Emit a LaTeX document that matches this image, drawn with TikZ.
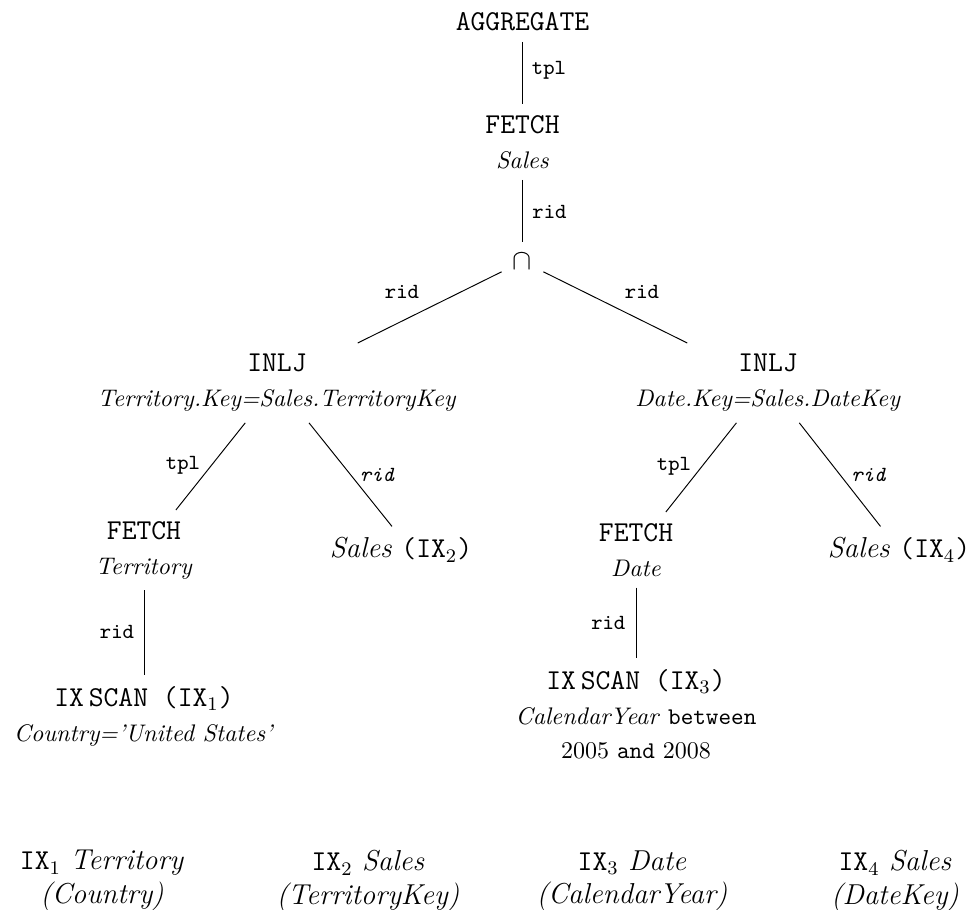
\documentclass[tikz,border=0pt]{standalone}
\usetikzlibrary{calc}
\tikzset{
  opnode/.style={font=\large, align=center, inner sep=4.5pt},
  elabel/.style={font=\small\ttfamily, inner sep=0pt},
  elabelit/.style={font=\small\ttfamily\itshape, inner sep=0pt},
  legendnode/.style={font=\large, align=center, inner sep=0pt},
  conn/.style={draw=black, line width=0.4pt}
}
\begin{document}
\begin{tikzpicture}[x=0.41667pt,y=-0.41667pt]
\useasboundingbox (0,0) rectangle (973,910);
% operator nodes
\node[opnode, anchor=north] (agg) at (522.5,1) {\texttt{AGGREGATE}};
\node[opnode, anchor=north] (fetch1) at (522.5,104) {\texttt{FETCH}\\[0.5pt]{\normalsize\textit{Sales}}};
\node[opnode] (cap) at (522.5,261.5) {$\cap$};
\node[opnode, anchor=north] (inlj1) at (277,343) {\texttt{INLJ}\\[0.5pt]{\normalsize\textit{Territory.Key=Sales.TerritoryKey}}};
\node[opnode, anchor=north] (inlj2) at (768,343) {\texttt{INLJ}\\[0.5pt]{\normalsize\textit{Date.Key=Sales.DateKey}}};
\node[opnode, anchor=north] (fetchT) at (144,510) {\texttt{FETCH}\\[0.5pt]{\normalsize\textit{Territory}}};
\node[opnode, anchor=base] (salesIX2) at (401,558) {\textit{Sales} \texttt{(IX}$_2$\texttt{)}};
\node[opnode, anchor=north] (fetchD) at (636,512) {\texttt{FETCH}\\[0.5pt]{\normalsize\textit{Date}}};
\node[opnode, anchor=base] (salesIX4) at (899,558) {\textit{Sales} \texttt{(IX}$_4$\texttt{)}};
\node[opnode, anchor=north] (ixscan1) at (144,675) {\texttt{IX}\,\texttt{SCAN (IX}$_1$\texttt{)}\\[0.5pt]{\normalsize\textit{Country='United States'}}};
\node[opnode, anchor=north] (ixscan3) at (636,658) {\texttt{IX}\,\texttt{SCAN (IX}$_3$\texttt{)}\\[0.5pt]{\normalsize\textit{CalendarYear} \texttt{between}}\\[0.5pt]{\normalsize 2005 \texttt{and} 2008}};
% connectors
\draw[conn] (agg) -- (fetch1);
\draw[conn] (fetch1) -- (cap);
\draw[conn] (cap) -- (inlj1);
\draw[conn] (cap) -- (inlj2);
\draw[conn] (inlj1) -- (fetchT);
\draw[conn] (inlj1) -- ($(salesIX2.north)+(-9,0)$);
\draw[conn] (inlj2) -- (fetchD);
\draw[conn] (inlj2) -- (salesIX4);
\draw[conn] (fetchT) -- (ixscan1);
\draw[conn] (fetchD) -- (ixscan3);
% edge labels
\node[elabel] (l1) at (549,70) {tpl};
\node[elabel] (l2) at (549.5,211.7) {rid};
\node[elabel] (l3) at (402,292) {rid};
\node[elabel] (l4) at (642,292) {rid};
\node[elabel] (l5) at (183,465) {tpl};
\node[elabelit] (l6) at (377,475) {rid};
\node[elabel] (l7) at (674,466) {tpl};
\node[elabelit] (l8) at (868.5,475) {rid};
\node[elabel] (l9) at (117,631.7) {rid};
\node[elabel] (l10) at (608.3,623.3) {rid};
% legend
\node[legendnode, anchor=north] (leg1) at (102,850) {\texttt{IX}$_1$ \textit{Territory}\\\textit{(Country)}};
\node[legendnode, anchor=north] (leg2) at (368,850) {\texttt{IX}$_2$ \textit{Sales}\\\textit{(TerritoryKey)}};
\node[legendnode, anchor=north] (leg3) at (632,850) {\texttt{IX}$_3$ \textit{Date}\\\textit{(CalendarYear)}};
\node[legendnode, anchor=north] (leg4) at (895,850) {\texttt{IX}$_4$ \textit{Sales}\\\textit{(DateKey)}};
\end{tikzpicture}
\end{document}
